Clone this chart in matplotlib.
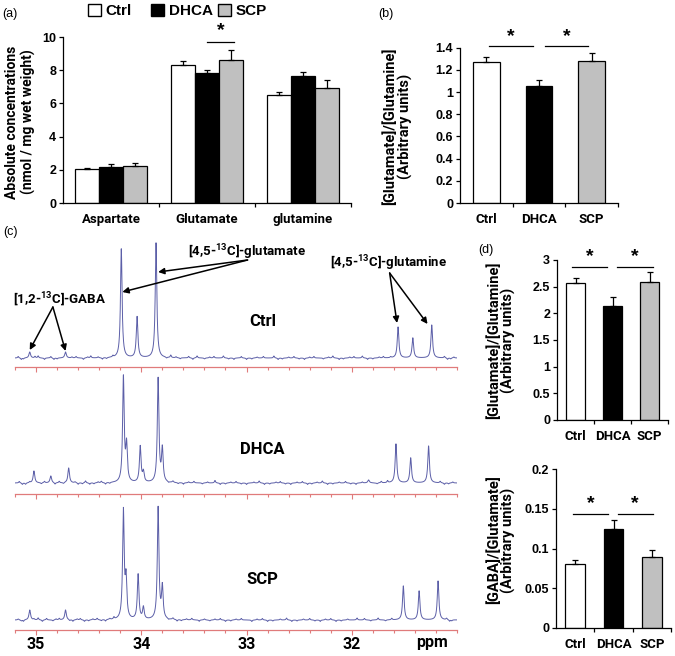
import numpy as np
import matplotlib
matplotlib.use("Agg")
import matplotlib.pyplot as plt
from matplotlib.patches import Patch

W, H = 675, 656

groups = ["Ctrl", "DHCA", "SCP"]
group_colors = ["white", "black", "#c0c0c0"]

# (a) absolute concentrations
metabolites = ["Aspartate", "Glutamate", "glutamine"]
conc_ctrl = [2.05, 8.31, 6.52]
conc_dhca = [2.15, 7.85, 7.63]
conc_scp = [2.25, 8.61, 6.90]
conc_err_ctrl = [0.07, 0.26, 0.15]
conc_err_dhca = [0.20, 0.17, 0.28]
conc_err_scp = [0.18, 0.60, 0.50]

# (b) glutamate / glutamine
ratio_b = [1.273, 1.054, 1.282]
ratio_b_err = [0.045, 0.054, 0.067]

# (d) 13C ratios
ratio_d1 = [2.575, 2.14, 2.59]
ratio_d1_err = [0.08, 0.17, 0.18]
ratio_d2 = [0.080, 0.125, 0.089]
ratio_d2_err = [0.006, 0.011, 0.009]

# (c) spectra: (ppm, height in px above baseline)
ctrl_peaks = [(35.06, 6), (34.72, 6), (34.19, 109), (34.04, 41), (33.86, 115),
              (31.56, 31), (31.42, 20), (31.24, 33)]
dhca_peaks = [(35.02, 12), (34.86, 7), (34.69, 15), (34.17, 105), (34.14, 36),
              (34.01, 36), (33.98, 10), (33.84, 104), (33.80, 33), (31.84, 3),
              (31.58, 39), (31.44, 25), (31.27, 37)]
scp_peaks = [(35.06, 10), (34.72, 10), (34.17, 108), (34.145, 38), (34.03, 45),
             (33.98, 12), (33.84, 112), (33.80, 32), (31.51, 34), (31.36, 29),
             (31.18, 39)]
ctrl_noise = [(35.17, 1.5), (35.14, -1.5), (35.12, -1), (35.01, 1.5), (34.98, 2), (34.92, -1.5),
              (34.86, 1.5), (34.83, -1.5), (34.80, -1), (34.66, 1), (34.62, 1.5), (34.55, -1.5),
              (34.51, 1), (34.48, 2), (34.41, 1), (34.37, -1.5), (34.33, -1), (34.27, 1.5),
              (33.76, -1), (33.72, 2.5), (33.67, 1), (33.63, -1), (33.55, 1.5), (33.51, -1.5),
              (33.47, 2), (33.40, -1), (33.35, 1), (33.31, 1.5), (33.22, 2), (33.17, -1),
              (33.12, -1.5), (33.05, 1.5), (33.00, -1.5), (32.95, -1), (32.90, 1), (32.84, 1.5),
              (32.74, 2), (32.70, -1.5), (32.66, -1), (32.60, 1), (32.55, 1.5), (32.50, -1),
              (32.45, -1.5), (32.40, 1), (32.36, 1.5), (32.27, -1), (32.22, 1), (32.18, 2),
              (32.12, -1.5), (32.08, -1), (32.02, 1), (31.98, 1.5), (31.90, 2), (31.85, -1.5),
              (31.80, -1), (31.74, 1), (31.70, 1.5), (31.63, 1), (31.12, 1.5), (31.09, -1.5),
              (31.06, -1), (31.03, 1)]
dhca_noise = [(35.16, 1.5), (35.13, -1.5), (35.10, -1.5), (35.06, 1), (34.95, -1), (34.92, 1.5),
              (34.82, -1.5), (34.78, 1.5), (34.74, -1), (34.63, 1), (34.60, -1.5), (34.56, -1),
              (34.53, 2), (34.49, -1.5), (34.45, -1), (34.41, 1), (34.38, 1.5), (34.34, -1.5),
              (34.30, -1), (33.74, -1), (33.70, 1.5), (33.65, -1), (33.60, -1.5), (33.55, 1),
              (33.50, 1.5), (33.42, -1), (33.37, 1), (33.30, 2.5), (33.25, -1.5), (33.20, -1),
              (33.15, 1), (33.10, 1.5), (33.05, -1), (33.00, -1.5), (32.93, 1), (32.88, 2),
              (32.83, -1.5), (32.78, -1), (32.72, 1), (32.68, 1.5), (32.63, -1), (32.58, -1.5),
              (32.52, 1), (32.47, 1.5), (32.42, -1.5), (32.38, -1), (32.33, 1), (32.28, 2),
              (32.23, -1.5), (32.18, -1), (32.12, 1), (32.06, 1.5), (32.01, -1), (31.96, -1.5),
              (31.90, 1), (31.76, -1), (31.72, 1.5), (31.66, 2), (31.16, 1.5), (31.12, -1.5),
              (31.08, -1), (31.04, 1)]
scp_noise = [(35.17, 1), (35.14, -1), (35.12, -1.5), (35.02, 1), (34.98, 2), (34.94, -1.5),
             (34.90, 1.5), (34.84, -1), (34.81, 1), (34.78, 1.5), (34.68, -1), (34.65, -1.5),
             (34.61, 1), (34.58, 1.5), (34.54, -1.5), (34.50, -1), (34.46, 1), (34.42, 1.5),
             (34.38, -1), (34.34, -1.5), (34.30, 1), (34.26, 2), (33.74, -1), (33.70, 1.5),
             (33.66, -1.5), (33.62, -1), (33.57, 1), (33.52, 1.5), (33.45, -1.5), (33.40, 1),
             (33.35, -1), (33.30, 1), (33.25, 1.5), (33.20, -1.5), (33.15, -1), (33.10, 1),
             (33.05, 1.5), (32.95, -1.5), (32.90, 1), (32.85, 1.5), (32.80, -1.5), (32.75, -1),
             (32.68, 1), (32.62, 2), (32.57, -1.5), (32.52, -1), (32.46, 1), (32.40, 1.5),
             (32.35, -1), (32.30, -1.5), (32.25, 1), (32.20, 1.5), (32.15, -1.5), (32.10, -1),
             (32.04, 1), (31.95, 2), (31.88, 1.5), (31.82, -1), (31.75, 2), (31.68, -1),
             (31.62, 1.5), (31.10, 1.5), (31.07, -1.5), (31.05, -1)]

ARIAL = "Liberation Sans"
CALIBRI = "Roboto"

plt.rcParams["font.family"] = [CALIBRI, "DejaVu Sans"]
plt.rcParams["font.weight"] = "bold"
plt.rcParams["mathtext.default"] = "regular"

fig = plt.figure(figsize=(W / 100, H / 100), dpi=100)


def px_axes(left, top, right, bottom):
    return fig.add_axes([left / W, 1 - bottom / H, (right - left) / W, (bottom - top) / H])


def style_bar_axes(ax, ylim, ystep, labels):
    ax.set_xlim(-0.5, 2.5)
    ax.set_ylim(*ylim)
    for s in ("top", "right"):
        ax.spines[s].set_visible(False)
    for s in ("left", "bottom"):
        ax.spines[s].set_linewidth(0.9)
    ticks = np.arange(ylim[0], ylim[1] + ystep / 2, ystep)
    ax.set_yticks(ticks)
    ax.set_yticklabels(["{:g}".format(round(v, 4)) for v in ticks], fontfamily=ARIAL,
                       fontweight="bold", fontsize=9)
    ax.tick_params(axis="y", direction="out", length=3, width=0.9, pad=2)
    ax.set_xticks([0, 1, 2])
    ax.set_xticklabels(labels, fontfamily=CALIBRI, fontweight="bold", fontsize=9.5)
    ax.tick_params(axis="x", which="major", length=0, pad=7)
    ax.set_xticks([0.5, 1.5, 2.5], minor=True)
    ax.tick_params(axis="x", which="minor", direction="out", length=3, width=0.9)


def add_sig(ax, x0, x1, y, ystar):
    ax.plot([x0, x1], [y, y], color="black", lw=0.9, clip_on=False)
    ax.text((x0 + x1) / 2, ystar, "*", ha="center", va="center", fontsize=14,
            fontweight="bold", fontfamily=ARIAL, clip_on=False)


# ---------- (a)
ax_a = px_axes(63, 37, 351, 203)
bw = 0.253
for i, (vals, errs) in enumerate([(conc_ctrl, conc_err_ctrl), (conc_dhca, conc_err_dhca),
                                  (conc_scp, conc_err_scp)]):
    x = np.arange(3) + (i - 1) * bw
    ax_a.bar(x, vals, bw, color=group_colors[i], edgecolor="black", linewidth=0.9,
             yerr=[[0] * 3, errs], capsize=2.5, error_kw=dict(elinewidth=0.9, capthick=0.9))
style_bar_axes(ax_a, (0, 10), 2, metabolites)
add_sig(ax_a, 1.0, 1.28, 9.7, 10.4)

# legend
leg_x = [88, 151, 218]
for i, g in enumerate(groups):
    h = Patch(facecolor=group_colors[i], edgecolor="black", linewidth=1)
    fig.legend([h], [g], loc="upper left", bbox_to_anchor=(leg_x[i] / W, 1 - 4 / H),
               frameon=False, borderpad=0, borderaxespad=0, handlelength=0.85,
               handleheight=0.85, handletextpad=0.3,
               prop=dict(family=ARIAL, weight="bold", size=11))

ylab = dict(rotation=90, ha="center", va="center", fontfamily=CALIBRI, fontweight="bold",
            fontsize=10)
fig.text(12 / W, 1 - 122 / H, "Absolute concentrations", **ylab)
fig.text(28 / W, 1 - 122 / H, "(nmol / mg wet weight)", **ylab)

ylab2 = dict(ylab, fontsize=10.5)
# ---------- (b)
ax_b = px_axes(460, 47.7, 618, 203)
ax_b.bar(np.arange(3), ratio_b, 0.51, color=group_colors, edgecolor="black", linewidth=0.9,
         yerr=[[0] * 3, ratio_b_err], capsize=2.5, error_kw=dict(elinewidth=0.9, capthick=0.9))
style_bar_axes(ax_b, (0, 1.4), 0.2, groups)
add_sig(ax_b, 0.05, 0.89, 1.417, 1.5)
add_sig(ax_b, 1.11, 1.93, 1.417, 1.5)
fig.text(390 / W, 1 - 126 / H, "[Glutamate]/[Glutamine]", **ylab2)
fig.text(405 / W, 1 - 126 / H, "(Arbitrary units)", **ylab2)

# ---------- (d) top
ax_d1 = px_axes(557, 260, 668, 420)
ax_d1.bar(np.arange(3), ratio_d1, 0.52, color=group_colors, edgecolor="black", linewidth=0.9,
          yerr=[[0] * 3, ratio_d1_err], capsize=2.5, error_kw=dict(elinewidth=0.9, capthick=0.9))
style_bar_axes(ax_d1, (0, 3), 0.5, groups)
add_sig(ax_d1, -0.09, 0.84, 2.86, 3.06)
add_sig(ax_d1, 1.13, 2.09, 2.86, 3.06)
fig.text(494 / W, 1 - 340 / H, "[Glutamate]/[Glutamine]", **ylab2)
fig.text(508 / W, 1 - 340 / H, "(Arbitrary units)", **ylab2)

# ---------- (d) bottom
ax_d2 = px_axes(556, 469, 671, 628)
ax_d2.bar(np.arange(3), ratio_d2, 0.52, color=group_colors, edgecolor="black", linewidth=0.9,
          yerr=[[0] * 3, ratio_d2_err], capsize=2.5, error_kw=dict(elinewidth=0.9, capthick=0.9))
style_bar_axes(ax_d2, (0, 0.2), 0.05, groups)
add_sig(ax_d2, -0.06, 0.85, 0.144, 0.156)
add_sig(ax_d2, 1.11, 2.02, 0.144, 0.156)
fig.text(494 / W, 1 - 540 / H, "[GABA]/[Glutamate]", **ylab2)
fig.text(508 / W, 1 - 540 / H, "(Arbitrary units)", **ylab2)

# ---------- (c) spectra
ppm = np.linspace(35.2, 31.0, 4201)


def spectrum(peaks, noise):
    y = np.zeros_like(ppm)
    for p, h in peaks:
        y += h * 0.009 ** 2 / ((ppm - p) ** 2 + 0.009 ** 2)
    for p, h in noise:
        y += h * 0.006 ** 2 / ((ppm - p) ** 2 + 0.006 ** 2)
    return y


spec_axes = []
for (top, bottom, base), peaks, noise, name, label_y in [
        ((225, 367, 358), ctrl_peaks, ctrl_noise, "Ctrl", 36),
        ((367, 494, 483), dhca_peaks, dhca_noise, "DHCA", 33),
        ((494, 630, 620), scp_peaks, scp_noise, "SCP", 40)]:
    ax = px_axes(15, top, 457, bottom)
    ax.patch.set_alpha(0)
    ax.plot(ppm, spectrum(peaks, noise), color="#5c5fa8", lw=0.7)
    ax.set_xlim(35.2, 31.0)
    ax.set_ylim(-(bottom - base), base - top)
    for s in ("top", "right", "left"):
        ax.spines[s].set_visible(False)
    ax.spines["bottom"].set_color("#e07b7b")
    ax.spines["bottom"].set_linewidth(0.9)
    ax.set_yticks([])
    ax.set_xticks([35, 34, 33, 32])
    ax.set_xticks(np.arange(31.0, 35.21, 0.2), minor=True)
    ax.tick_params(axis="x", which="major", direction="out", length=3.5, width=0.8,
                   color="#e07b7b", pad=1.5)
    ax.tick_params(axis="x", which="minor", direction="out", length=2, width=0.8,
                   color="#e07b7b")
    ax.set_xticklabels([])
    ax.text(32.85, label_y, name, ha="center", va="center", fontfamily=CALIBRI,
            fontweight="bold", fontsize=12)
    spec_axes.append(ax)

ax_scp = spec_axes[2]
ax_scp.set_xticklabels(["35", "34", "33", "32"], fontfamily=CALIBRI, fontweight="bold",
                       fontsize=11.5)
ax_scp.text(31.24, -23, "ppm", ha="center", va="center", fontfamily=CALIBRI,
            fontweight="bold", fontsize=11.5)

ax_ctrl = spec_axes[0]
arrow = dict(arrowstyle="-|>", color="black", lw=1.1, mutation_scale=9, shrinkA=0, shrinkB=0)
ann = dict(ha="center", va="center", fontfamily=CALIBRI, fontweight="bold", fontsize=9.5)
ax_ctrl.text(33.0, 106, "[4,5-$^{13}$C]-glutamate", **ann)
for tip in [(34.18, 66), (33.84, 86)]:
    ax_ctrl.annotate("", xy=tip, xytext=(32.99, 98), arrowprops=arrow)
ax_ctrl.text(31.65, 95, "[4,5-$^{13}$C]-glutamine", **ann)
for tip in [(31.57, 35), (31.28, 34)]:
    ax_ctrl.annotate("", xy=tip, xytext=(31.64, 85), arrowprops=arrow)
ax_ctrl.text(34.78, 58, "[1,2-$^{13}$C]-GABA", **ann)
for tip in [(35.06, 8), (34.72, 7)]:
    ax_ctrl.annotate("", xy=tip, xytext=(34.84, 51), arrowprops=arrow)

# panel letters
for txt, x, y in [("(a)", 10, 14), ("(b)", 386, 14), ("(c)", 10, 232), ("(d)", 486, 250)]:
    fig.text(x / W, 1 - y / H, txt, ha="center", va="center", fontfamily=ARIAL,
             fontweight="normal", fontsize=9)

fig.savefig("out.png", dpi=100)
